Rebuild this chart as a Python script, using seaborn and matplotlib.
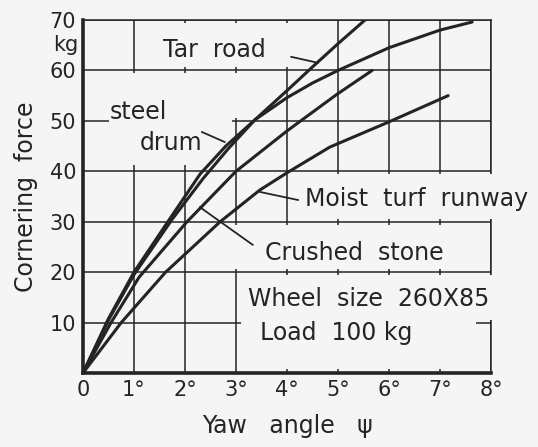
import matplotlib
matplotlib.use("Agg")
import matplotlib.pyplot as plt
import matplotlib.transforms as mtransforms
from matplotlib.patches import Rectangle
import seaborn as sns
import pandas as pd

# Cornering force (kg) against yaw angle (deg)
tar_yaw = [0, 0.5, 1.0, 1.75, 2.35, 2.85, 3.37, 4.0, 4.5, 5.0, 5.53]
tar_force = [0, 10.5, 19.5, 30.5, 38.5, 44.5, 50.2, 56.0, 60.7, 65.3, 70.0]

drum_yaw = [0, 0.5, 1.0, 1.75, 2.3, 2.8, 3.37, 4.0, 4.5, 5.0, 6.0, 7.0, 7.63]
drum_force = [0, 10.8, 20.0, 31.3, 39.5, 45.0, 50.2, 54.6, 57.5, 60.0, 64.5, 68.0, 69.6]

stone_yaw = [0, 0.55, 1.1, 2.04, 3.0, 4.0, 4.97, 5.67]
stone_force = [0, 10.0, 19.0, 30.0, 40.0, 48.0, 55.2, 60.0]

turf_yaw = [0, 0.75, 1.62, 2.69, 3.47, 4.0, 4.84, 6.0, 7.16]
turf_force = [0, 10.0, 20.0, 30.0, 36.3, 39.7, 44.8, 49.8, 55.0]

x_ticks = [0, 1, 2, 3, 4, 5, 6, 7, 8]
x_labels = ["0", "1°", "2°", "3°", "4°", "5°", "6°", "7°", "8°"]
y_ticks = [0, 10, 20, 30, 40, 50, 60, 70]
y_labels = ["", "10", "20", "30", "40", "50", "60", "70"]

BG = "#f5f5f5"
INK = "#242424"

df = pd.concat([
    pd.DataFrame({"yaw": tar_yaw, "force": tar_force, "surface": "Tar road"}),
    pd.DataFrame({"yaw": drum_yaw, "force": drum_force, "surface": "steel drum"}),
    pd.DataFrame({"yaw": stone_yaw, "force": stone_force, "surface": "Crushed stone"}),
    pd.DataFrame({"yaw": turf_yaw, "force": turf_force, "surface": "Moist turf runway"}),
])

sns.set_style("white")
plt.rcParams["font.family"] = ["DejaVu Sans"]

fig = plt.figure(figsize=(5.38, 4.47), dpi=100, facecolor=BG)
ax = fig.add_axes([83 / 538, 74 / 447, 408 / 538, 353 / 447])
ax.set_facecolor(BG)

sns.lineplot(data=df, x="yaw", y="force", hue="surface", palette=[INK] * 4,
             sort=False, legend=False, linewidth=2.2, ax=ax, zorder=6)

ax.set_xlim(0, 8)
ax.set_ylim(0, 70)
ax.set_xticks(x_ticks)
ax.set_xticklabels(x_labels)
ax.set_yticks(y_ticks)
ax.set_yticklabels(y_labels)
ax.tick_params(length=0, labelsize=15, colors=INK, pad=5)
ax.grid(True, color=INK, linewidth=1.1)
ax.set_axisbelow(True)

for side in ["left", "bottom"]:
    ax.spines[side].set_linewidth(2.6)
    ax.spines[side].set_color(INK)
for side in ["top", "right"]:
    ax.spines[side].set_linewidth(1.1)
    ax.spines[side].set_color(INK)

ax.set_xlabel("Yaw   angle   ψ", fontsize=17, color=INK, labelpad=10)
ax.set_ylabel("Cornering  force", fontsize=17, color=INK, labelpad=8)

trans = mtransforms.blended_transform_factory(ax.transAxes, ax.transData)
ax.text(-0.012, 65, "kg", transform=trans, ha="right", va="center",
        fontsize=15, color=INK)

# blank areas behind the labels (grid is cut away there)
masks = [
    (1.31, 60.6, 2.75, 8.8),
    (0.5, 41.3, 2.42, 18.1),
    (2.92, 50.5, 0.16, 8.9),
    (4.15, 30.6, 4.9, 8.8),
    (2.92, 20.6, 4.98, 8.8),
    (3.1, 0.8, 4.6, 18.6),
    (7.7, 10.6, 1.4, 8.8),
]
for x0, y0, w, h in masks:
    ax.add_patch(Rectangle((x0, y0), w, h, facecolor=BG, edgecolor="none",
                           zorder=3, clip_on=False))

label_kw = dict(fontsize=17, color=INK, va="center", ha="left", zorder=7)
ax.text(1.57, 64.0, "Tar  road", **label_kw)
ax.text(0.53, 51.8, "steel", **label_kw)
ax.text(1.12, 45.6, "drum", **label_kw)
ax.text(4.35, 34.5, "Moist  turf  runway", clip_on=False, **label_kw)
ax.text(3.57, 23.8, "Crushed  stone", **label_kw)
ax.text(3.24, 14.7, "Wheel  size  260X85", clip_on=False, **label_kw)
ax.text(3.47, 7.9, "Load  100 kg", **label_kw)

# leader lines from labels to curves
leaders = [
    ([4.08, 4.61], [62.7, 61.5]),
    ([2.33, 2.78], [47.8, 45.8]),
    ([4.22, 3.47], [34.3, 35.9]),
    ([3.33, 2.29], [25.4, 32.9]),
]
for lx, ly in leaders:
    ax.plot(lx, ly, color=INK, linewidth=1.3, zorder=6)

plt.savefig("out.png", dpi=100, facecolor=BG)
plt.close()
